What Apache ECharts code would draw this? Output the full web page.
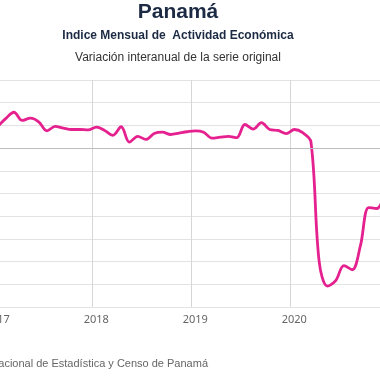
<!DOCTYPE html>
<html>
<head>
<meta charset="utf-8">
<script src="https://cdn.jsdelivr.net/npm/echarts@6/dist/echarts.min.js"></script>
<style>
html,body{margin:0;padding:0;width:380px;height:380px;overflow:hidden;background:#fff;}
#c{position:absolute;left:-40px;top:0;width:480px;height:380px;}
</style>
</head>
<body>
<div id="c"></div>
<script>
// Months from Jan 2017 (index 0) to Dec 2020 (index 47)
const startYear = 2017;
const yearTicks = ['2017', '2018', '2019', '2020', '2021'];
const values2017 = [4.7, 6.5, 7.9, 6.1, 6.6, 5.8, 3.8, 4.8, 4.4, 4.1, 4.1, 4.0];
const values2018 = [4.6, 3.9, 2.8, 4.7, 1.3, 2.6, 1.9, 3.2, 3.5, 3.0, 3.3, 3.6];
const values2019 = [3.8, 3.5, 2.2, 2.4, 2.6, 2.3, 5.2, 4.2, 5.6, 4.1, 3.9, 3.2];
const values2020 = [4.1, 3.4, 1.4, -25.0, -30.4, -29.2, -25.9, -26.8, -21.5, -13.1, -13.3, -9.8];
const titleText = 'Panamá';
const subtitleText = 'Indice Mensual de  Actividad Económica';
const subsubText = 'Variación interanual de la serie original';
const sourceText = 'Fuente: Instituto Nacional de Estadística y Censo de Panamá';

const allValues = [].concat(values2017, values2018, values2019, values2020);
const seriesData = allValues.map((v, i) => [i + 0.5, v]);

const chart = echarts.init(document.getElementById('c'), null, {renderer: 'canvas'});
chart.setOption({
  animation: false,
  backgroundColor: '#fff',
  grid: {left: 33.3, right: 50.7, top: 80, bottom: 73},
  xAxis: {
    type: 'value', min: 0, max: 48, interval: 12,
    axisLine: {show: false},
    axisTick: {show: false},
    splitLine: {show: true, lineStyle: {color: '#d6d6d6', width: 1}},
    axisLabel: {
      color: '#666', fontSize: 11, fontFamily: 'Noto Sans', margin: 7,
      padding: [0, 0, 0, 8],
      formatter: v => yearTicks[Math.round(v / 12)]
    }
  },
  yAxis: {
    type: 'value', min: -35, max: 15, interval: 5,
    axisLine: {show: false}, axisTick: {show: false},
    axisLabel: {show: false},
    splitLine: {lineStyle: {color: '#e3e3e3', width: 1}}
  },
  series: [{
    type: 'line',
    data: seriesData,
    smooth: 0.35,
    showSymbol: false,
    lineStyle: {color: '#e5218f', width: 2.8},
    markLine: {
      silent: true, symbol: 'none', label: {show: false},
      lineStyle: {color: '#bdbdbd', width: 1.2, type: 'solid'},
      data: [{yAxis: 0}]
    }
  }],
  graphic: [
    {type: 'text', x: 218, y: 12, style: {text: titleText, font: 'bold 21px "Liberation Sans", Arial', fill: '#1c2a43', textAlign: 'center', textVerticalAlign: 'middle'}},
    {type: 'text', x: 218, y: 36, style: {text: subtitleText, font: 'bold 12px "Liberation Sans", Arial', fill: '#1c2a43', textAlign: 'center', textVerticalAlign: 'middle'}},
    {type: 'text', x: 218, y: 57.5, style: {text: subsubText, font: '12px "Liberation Sans", Arial', fill: '#333', textAlign: 'center', textVerticalAlign: 'middle'}},
    {type: 'text', x: 248, y: 364, style: {text: sourceText, font: '11px "Liberation Sans", Arial', fill: '#666', textAlign: 'right', textVerticalAlign: 'middle'}}
  ]
});
</script>
</body>
</html>
